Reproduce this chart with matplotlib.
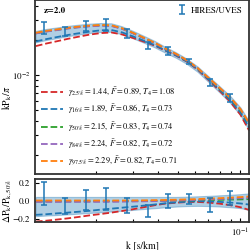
import numpy as np
import matplotlib
matplotlib.use('Agg')
import matplotlib.pyplot as plt

plt.rcParams['font.family'] = 'serif'
plt.rcParams['font.serif'] = ['STIXGeneral', 'DejaVu Serif']
plt.rcParams['mathtext.fontset'] = 'stix'

# k grid (s/km) where the curves were read
k_grid = [0.0102, 0.0115, 0.0130, 0.0146, 0.0165, 0.0186, 0.0210, 0.0237, 0.0267, 0.0301,
          0.0340, 0.0383, 0.0432, 0.0487, 0.0550, 0.0620, 0.0700, 0.0790, 0.0890, 0.1000, 0.1100]
# median model kP/pi
fid = [0.02319, 0.02413, 0.02487, 0.02563, 0.02625, 0.02678, 0.02710, 0.02694, 0.02537, 0.02319,
       0.02098, 0.01898, 0.01683, 0.01508, 0.01323, 0.01128, 0.00923, 0.00756, 0.00618, 0.00486, 0.00367]

# residuals relative to the median model
res_red = [-0.23, -0.22, -0.207, -0.194, -0.178, -0.161, -0.146, -0.13, -0.112, -0.093,
           -0.07, -0.048, -0.03, -0.02, -0.012, -0.011, -0.018, -0.03, -0.047, -0.07, -0.10]
res_blue = [-0.155, -0.148, -0.138, -0.13, -0.12, -0.11, -0.097, -0.086, -0.075, -0.064,
            -0.052, -0.04, -0.026, -0.016, -0.008, -0.004, -0.004, -0.01, -0.018, -0.028, -0.04]
res_green = [-0.005, -0.005, -0.005, -0.005, -0.004, -0.004, -0.003, -0.003, -0.002, -0.002,
             -0.001, 0.0, 0.002, 0.004, 0.006, 0.008, 0.01, 0.012, 0.015, 0.017, 0.02]
res_purple = [-0.01, -0.01, -0.01, -0.01, -0.01, -0.01, -0.01, -0.01, -0.008, -0.006,
              -0.004, -0.002, 0.001, 0.004, 0.008, 0.012, 0.016, 0.021, 0.026, 0.03, 0.035]
res_orange = [0.005, 0.005, 0.005, 0.005, 0.005, 0.005, 0.005, 0.005, 0.005, 0.006,
              0.007, 0.009, 0.011, 0.014, 0.017, 0.021, 0.026, 0.031, 0.037, 0.043, 0.05]
band_lo = [-0.17, -0.163, -0.157, -0.15, -0.142, -0.134, -0.126, -0.118, -0.109, -0.10,
           -0.09, -0.081, -0.071, -0.063, -0.057, -0.055, -0.057, -0.062, -0.07, -0.08, -0.10]
band_hi = [0.045, 0.045, 0.045, 0.045, 0.045, 0.045, 0.045, 0.045, 0.045, 0.045,
           0.045, 0.045, 0.045, 0.045, 0.048, 0.052, 0.057, 0.063, 0.069, 0.076, 0.085]

labels = [r'$\gamma_{2.5\%}=1.44$, $\bar{F}=0.89$, $T_4=1.08$',
          r'$\gamma_{16\%}=1.89$, $\bar{F}=0.86$, $T_4=0.73$',
          r'$\gamma_{50\%}=2.15$, $\bar{F}=0.83$, $T_4=0.74$',
          r'$\gamma_{84\%}=2.24$, $\bar{F}=0.82$, $T_4=0.72$',
          r'$\gamma_{97.5\%}=2.29$, $\bar{F}=0.82$, $T_4=0.71$']
colors = ['tab:red', 'tab:blue', 'tab:green', 'tab:purple', 'tab:orange']

# HIRES/UVES data: k, residual and relative error
k_data = [0.0112, 0.0141, 0.0178, 0.0224, 0.0282, 0.0355, 0.0447, 0.0562, 0.0708, 0.0891]
res_data = [0.085, -0.055, 0.01, 0.02, -0.05, -0.11, 0.0, 0.02, -0.045, 0.03]
err_data = [0.125, 0.09, 0.11, 0.12, 0.08, 0.065, 0.08, 0.055, 0.075, 0.08]

k_grid = np.array(k_grid)
fid = np.array(fid)
k_data = np.array(k_data)
fid_data = np.exp(np.interp(np.log(k_data), np.log(k_grid), np.log(fid)))

fig = plt.figure(figsize=(2.5, 2.5), dpi=100)
ax1 = fig.add_axes([0.14, 0.304, 0.856, 0.696])
ax2 = fig.add_axes([0.14, 0.112, 0.856, 0.172])

res_all = [res_red, res_blue, res_green, res_purple, res_orange]

ax1.fill_between(k_grid, fid * (1 + np.array(band_lo)), fid * (1 + np.array(band_hi)),
                 color='tab:blue', alpha=0.35, lw=0.8)
ax2.fill_between(k_grid, band_lo, band_hi, color='tab:blue', alpha=0.35, lw=0.8)
for r, c, lab in zip(res_all, colors, labels):
    ax1.plot(k_grid, fid * (1 + np.array(r)), ls='--', color=c, lw=1.3, label=lab)
    ax2.plot(k_grid, r, ls='--', color=c, lw=1.3)

eb = ax1.errorbar(k_data, fid_data * (1 + np.array(res_data)), yerr=fid_data * np.array(err_data),
                  fmt='none', ecolor='tab:blue', elinewidth=1.1, capsize=2.5, capthick=1.1)
ax2.errorbar(k_data, res_data, yerr=err_data, fmt='none', ecolor='tab:blue',
             elinewidth=1.1, capsize=2.5, capthick=1.1)

for ax in (ax1, ax2):
    ax.set_xscale('log')
    ax.set_xlim(0.0101, 0.11)
    ax.tick_params(which='both', direction='in', labelsize=6.5, width=0.8)
    ax.tick_params(which='major', length=3)
    ax.tick_params(which='minor', length=2)
    for s in ax.spines.values():
        s.set_linewidth(1.3)
        s.set_color('#333333')

ax1.set_yscale('log')
ax1.set_ylim(0.00138, 0.0449)
ax1.tick_params(labelbottom=False)
ax1.yaxis.set_minor_formatter(matplotlib.ticker.NullFormatter())
ax1.set_ylabel(r'$\mathrm{kP_k}/\pi$', fontsize=7)
ax1.yaxis.set_label_coords(-0.1, 0.44)
ax1.text(0.04, 0.96, 'z=2.0', transform=ax1.transAxes, fontsize=6.5, fontweight='bold',
         va='top', ha='left')

leg1 = ax1.legend([eb], ['HIRES/UVES'], loc='upper right', fontsize=6.5, frameon=False,
                  handlelength=1.0, handletextpad=0.5, borderaxespad=0.3)
ax1.add_artist(leg1)
ax1.legend(loc='lower left', fontsize=6, frameon=False, handlelength=2.6,
           handletextpad=0.6, labelspacing=0.45, borderaxespad=0.3)

ax2.set_ylim(-0.235, 0.245)
ax2.set_yticks([-0.2, 0.0, 0.2])
ax2.set_yticklabels(['\u22120.2', '0.0', '0.2'])
ax2.set_ylabel(r'$\Delta\mathrm{P_k}/\mathrm{P_{k,50\%}}$', fontsize=7)
ax2.yaxis.set_label_coords(-0.1, 0.5)
ax2.set_xlabel('k [s/km]', fontsize=7, labelpad=2)

fig.savefig('out.png', dpi=100)
